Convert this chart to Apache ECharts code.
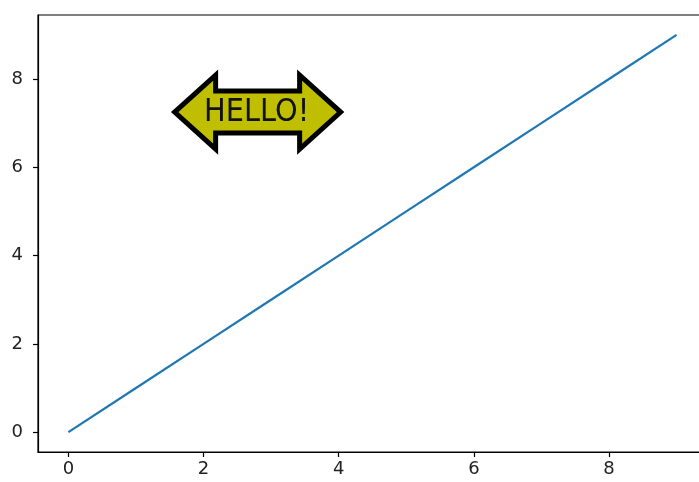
<!DOCTYPE html>
<html>
<head>
<meta charset="utf-8">
<script src="https://cdn.jsdelivr.net/npm/echarts@6/dist/echarts.min.js"></script>
<style>html,body{margin:0;padding:0;background:#fff;}#c{width:699px;height:482px;}</style>
</head>
<body>
<div id="c"></div>
<script>
const xValues = [0, 1, 2, 3, 4, 5, 6, 7, 8, 9];
const yValues = [0, 1, 2, 3, 4, 5, 6, 7, 8, 9];
const xTicks = [0, 2, 4, 6, 8];
const yTicks = [0, 2, 4, 6, 8];
const annotationText = 'HELLO!';
const annotationAt = [2.8, 7.25];

const chart = echarts.init(document.getElementById('c'), null, {renderer: 'canvas'});
const font = 'DejaVu Sans';
function axis(ticks, margin) {
  return {
    type: 'value', min: -0.45, max: 9.45,
    axisLine: {show: true, onZero: false, lineStyle: {color: '#000', width: 1.2}},
    axisTick: {show: true, inside: false, length: 5, customValues: ticks, lineStyle: {color: '#000', width: 1.2}},
    axisLabel: {customValues: ticks, color: '#222', fontSize: 18, fontFamily: font, margin: margin},
    splitLine: {show: false}
  };
}
chart.setOption({
  animation: false,
  grid: {left: 38, top: 15, width: 669, height: 437, outerBoundsMode: 'none', containLabel: false,
         show: true, borderColor: '#000', borderWidth: 1.2, backgroundColor: 'transparent'},
  xAxis: axis(xTicks, 8),
  yAxis: axis(yTicks, 15),
  series: [{
    type: 'line',
    data: xValues.map((x, i) => [x, yValues[i]]),
    showSymbol: false,
    clip: false,
    lineStyle: {color: '#1f77b4', width: 2.2},
    z: 3
  }]
});

const c = chart.convertToPixel({gridIndex: 0}, annotationAt);
chart.setOption({
  graphic: [{
    type: 'group', x: c[0], y: c[1], z: 100,
    children: [
      {type: 'polygon', shape: {points: [[-83,0],[-42,-37],[-42,-21],[42,-21],[42,-37],[83,0],[42,37],[42,21],[-42,21],[-42,37]]},
       style: {fill: '#bfbf00', stroke: '#000', lineWidth: 5, lineJoin: 'miter'}},
      {type: 'text', x: -1, y: 1, scaleX: 0.9, style: {text: annotationText, fontSize: 32, fontFamily: font, fill: '#111', align: 'center', verticalAlign: 'middle'}}
    ]
  }]
});
</script>
</body>
</html>
